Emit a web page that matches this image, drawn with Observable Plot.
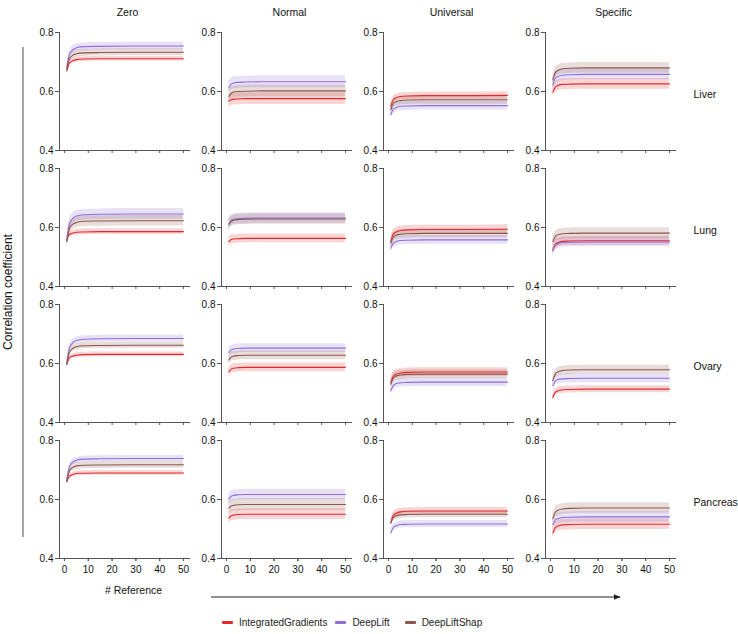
<!DOCTYPE html>
<html>
<head>
<meta charset="utf-8">
<script src="https://cdn.jsdelivr.net/npm/d3@7"></script>
<script src="https://cdn.jsdelivr.net/npm/@observablehq/plot@0.6"></script>
<style>
  body { margin: 0; background: #fff; font-family: "Liberation Sans", Arial, sans-serif; }
  #legend { height: 24px; display: flex; align-items: center; padding-left: 222px; font-size: 10px; color: #222; }
  #legend .item { display: flex; align-items: center; margin-right: 8px; }
  #legend .sw { width: 11px; height: 3px; margin-right: 6px; border-radius: 1px; }
</style>
</head>
<body>
<div id="chart"></div>
<div id="legend"></div>
<script>
const xs = [1, 2, 3, 5, 8, 15, 30, 50];
const methods = ["IntegratedGradients", "DeepLift", "DeepLiftShap"];
const baselines = ["Zero", "Normal", "Universal", "Specific"];
const tissues = ["Liver", "Lung", "Ovary", "Pancreas"];
const colors = ["#e32b2f", "#8d6fd7", "#8c564b"];
const yTicks = [0.4, 0.6, 0.8];
const xTicks = [0, 10, 20, 30, 40, 50];

// mean curves: [IntegratedGradients, DeepLift, DeepLiftShap]
const liverZero = [
  [0.670, 0.695, 0.702, 0.708, 0.710, 0.711, 0.711, 0.711],
  [0.680, 0.724, 0.738, 0.748, 0.752, 0.753, 0.754, 0.754],
  [0.675, 0.710, 0.720, 0.728, 0.731, 0.732, 0.733, 0.733]];
const liverNormal = [
  [0.567, 0.572, 0.574, 0.575, 0.576, 0.576, 0.576, 0.576],
  [0.613, 0.625, 0.629, 0.631, 0.632, 0.633, 0.633, 0.633],
  [0.583, 0.594, 0.598, 0.600, 0.601, 0.602, 0.602, 0.602]];
const liverUniversal = [
  [0.550, 0.572, 0.578, 0.583, 0.585, 0.586, 0.586, 0.587],
  [0.522, 0.540, 0.545, 0.550, 0.551, 0.552, 0.552, 0.552],
  [0.539, 0.559, 0.565, 0.569, 0.571, 0.572, 0.572, 0.572]];
const liverSpecific = [
  [0.598, 0.615, 0.620, 0.624, 0.625, 0.626, 0.626, 0.626],
  [0.622, 0.644, 0.650, 0.655, 0.657, 0.658, 0.658, 0.658],
  [0.639, 0.664, 0.671, 0.677, 0.679, 0.680, 0.680, 0.680]];

const lungZero = [
  [0.560, 0.576, 0.580, 0.584, 0.585, 0.586, 0.586, 0.586],
  [0.553, 0.609, 0.626, 0.639, 0.643, 0.645, 0.646, 0.646],
  [0.553, 0.595, 0.608, 0.617, 0.621, 0.622, 0.623, 0.623]];
const lungNormal = [
  [0.552, 0.559, 0.561, 0.562, 0.563, 0.563, 0.563, 0.563],
  [0.613, 0.624, 0.628, 0.630, 0.631, 0.632, 0.632, 0.632],
  [0.610, 0.621, 0.625, 0.627, 0.628, 0.629, 0.629, 0.629]];
const lungUniversal = [
  [0.554, 0.577, 0.584, 0.590, 0.592, 0.593, 0.593, 0.594],
  [0.530, 0.547, 0.552, 0.556, 0.557, 0.558, 0.558, 0.558],
  [0.547, 0.567, 0.573, 0.577, 0.579, 0.580, 0.580, 0.580]];
const lungSpecific = [
  [0.525, 0.543, 0.548, 0.553, 0.554, 0.555, 0.555, 0.555],
  [0.520, 0.539, 0.544, 0.549, 0.550, 0.551, 0.551, 0.551],
  [0.552, 0.569, 0.575, 0.579, 0.580, 0.581, 0.581, 0.581]];

const ovaryZero = [
  [0.598, 0.618, 0.624, 0.628, 0.630, 0.631, 0.631, 0.631],
  [0.600, 0.651, 0.666, 0.678, 0.682, 0.684, 0.685, 0.685],
  [0.598, 0.636, 0.648, 0.657, 0.660, 0.661, 0.662, 0.662]];
const ovaryNormal = [
  [0.572, 0.581, 0.584, 0.586, 0.587, 0.587, 0.587, 0.587],
  [0.637, 0.646, 0.649, 0.651, 0.652, 0.652, 0.652, 0.652],
  [0.612, 0.622, 0.625, 0.627, 0.628, 0.628, 0.628, 0.628]];
const ovaryUniversal = [
  [0.536, 0.557, 0.563, 0.568, 0.570, 0.571, 0.571, 0.571],
  [0.508, 0.525, 0.531, 0.535, 0.536, 0.537, 0.537, 0.537],
  [0.530, 0.550, 0.557, 0.561, 0.563, 0.564, 0.564, 0.564]];
const ovarySpecific = [
  [0.485, 0.502, 0.507, 0.511, 0.512, 0.513, 0.513, 0.513],
  [0.525, 0.540, 0.545, 0.548, 0.549, 0.550, 0.550, 0.550],
  [0.542, 0.564, 0.571, 0.576, 0.578, 0.579, 0.579, 0.579]];

const pancreasZero = [
  [0.660, 0.678, 0.683, 0.688, 0.689, 0.690, 0.690, 0.690],
  [0.665, 0.709, 0.723, 0.733, 0.737, 0.738, 0.739, 0.739],
  [0.662, 0.696, 0.706, 0.714, 0.716, 0.717, 0.718, 0.718]];
const pancreasNormal = [
  [0.537, 0.545, 0.547, 0.549, 0.550, 0.550, 0.550, 0.550],
  [0.602, 0.611, 0.614, 0.616, 0.617, 0.617, 0.617, 0.617],
  [0.571, 0.578, 0.580, 0.582, 0.583, 0.583, 0.583, 0.583]];
const pancreasUniversal = [
  [0.521, 0.545, 0.552, 0.558, 0.560, 0.561, 0.561, 0.561],
  [0.487, 0.505, 0.510, 0.515, 0.516, 0.517, 0.517, 0.517],
  [0.521, 0.538, 0.544, 0.548, 0.549, 0.550, 0.550, 0.550]];
const pancreasSpecific = [
  [0.487, 0.504, 0.510, 0.514, 0.515, 0.516, 0.516, 0.516],
  [0.515, 0.531, 0.535, 0.539, 0.540, 0.541, 0.541, 0.541],
  [0.535, 0.557, 0.563, 0.568, 0.570, 0.571, 0.571, 0.571]];

// band half-widths per baseline: [IG, DL, DLS]
const liverSpread = [[0.008, 0.013, 0.012], [0.020, 0.020, 0.020], [0.012, 0.015, 0.015], [0.018, 0.018, 0.018]];
const lungSpread = [[0.010, 0.018, 0.018], [0.015, 0.018, 0.018], [0.015, 0.015, 0.015], [0.015, 0.015, 0.018]];
const ovarySpread = [[0.008, 0.012, 0.010], [0.015, 0.015, 0.015], [0.015, 0.015, 0.015], [0.012, 0.015, 0.015]];
const pancreasSpread = [[0.008, 0.010, 0.012], [0.018, 0.018, 0.020], [0.012, 0.012, 0.012], [0.018, 0.018, 0.018]];

const panels = {
  Liver: [liverZero, liverNormal, liverUniversal, liverSpecific],
  Lung: [lungZero, lungNormal, lungUniversal, lungSpecific],
  Ovary: [ovaryZero, ovaryNormal, ovaryUniversal, ovarySpecific],
  Pancreas: [pancreasZero, pancreasNormal, pancreasUniversal, pancreasSpecific]
};
const spreads = { Liver: liverSpread, Lung: lungSpread, Ovary: ovarySpread, Pancreas: pancreasSpread };

const rows = [];
tissues.forEach(t => baselines.forEach((b, bi) => methods.forEach((m, mi) => {
  const ys = panels[t][bi][mi];
  const s = spreads[t][bi][mi];
  xs.forEach((x, i) => rows.push({ tissue: t, baseline: b, method: m, x, y: ys[i], lo: ys[i] - s, hi: ys[i] + s }));
})));

const font = '"Liberation Sans", Arial, sans-serif';
const axisColor = "#555";

const chart = Plot.plot({
  width: 738,
  height: 610,
  marginLeft: 57,
  marginRight: 61,
  marginTop: 30,
  marginBottom: 50,
  style: { fontFamily: font, fontSize: "10px", color: "#111", background: "#fff" },
  fx: { domain: baselines, paddingInner: 0.196, paddingOuter: 0, axis: null },
  fy: { domain: tissues, paddingInner: 0.131, paddingOuter: 0, axis: null },
  x: { domain: [0, 50], insetLeft: 5, insetRight: 6 },
  y: { domain: [0.4, 0.8] },
  color: { domain: methods, range: colors },
  marks: [
    Plot.areaY(rows, { fx: "baseline", fy: "tissue", x: "x", y1: "lo", y2: "hi", z: "method", fill: "method", fillOpacity: 0.2, curve: "monotone-x" }),
    Plot.lineY(rows, { fx: "baseline", fy: "tissue", x: "x", y: "y", z: "method", stroke: "method", strokeWidth: 1.1, curve: "monotone-x" }),
    Plot.frame({ anchor: "left", stroke: axisColor }),
    Plot.frame({ anchor: "bottom", stroke: axisColor }),
    Plot.axisY({ ticks: yTicks, tickSize: 4, tickPadding: 2, tickFormat: d3.format(".1f"), label: null, facetAnchor: null, stroke: axisColor }),
    Plot.axisX({ ticks: xTicks, tickSize: 3, tickFormat: () => "", label: null, facetAnchor: null, stroke: axisColor }),
    Plot.axisX({ ticks: xTicks, tickSize: 3, tickPadding: 4, label: null, stroke: axisColor }),
    Plot.text(baselines, { fx: d => d, fy: () => tissues[0], text: d => d, frameAnchor: "top", dy: -24, dx: 3, fontSize: 10.5 }),
    Plot.text(tissues, { fy: d => d, fx: () => baselines[3], text: d => d, frameAnchor: "right", textAnchor: "start", dx: 18, dy: 3, fontSize: 10.5 }),
    Plot.text(["# Reference"], { fx: () => baselines[0], fy: () => tissues[3], text: d => d, frameAnchor: "bottom", dy: 35, dx: 9, fontSize: 10.5 })
  ]
});

// decorations: outer y label with bracket line, and arrow under x axes
const svg = d3.select(chart);
const defs = svg.append("defs");
defs.append("marker").attr("id", "arrowhead").attr("viewBox", "0 0 10 10").attr("refX", 9).attr("refY", 5)
  .attr("markerWidth", 7).attr("markerHeight", 7).attr("orient", "auto")
  .append("path").attr("d", "M0,1 L10,5 L0,9 Z").attr("fill", "#222");
svg.append("line").attr("x1", 23).attr("x2", 23).attr("y1", 47).attr("y2", 537)
  .attr("stroke", "#888").attr("stroke-width", 1.5);
svg.append("text").attr("transform", "translate(9,292) rotate(-90)").attr("text-anchor", "middle")
  .attr("dominant-baseline", "middle").attr("font-size", 12).attr("fill", "#111").text("Correlation coefficient");
svg.append("line").attr("x1", 211).attr("x2", 620).attr("y1", 597).attr("y2", 597)
  .attr("stroke", "#222").attr("stroke-width", 1).attr("marker-end", "url(#arrowhead)");

document.getElementById("chart").appendChild(chart);

const legend = d3.select("#legend");
methods.forEach((m, i) => {
  const item = legend.append("div").attr("class", "item").style("margin-right", i === 1 ? "15px" : "8px");
  item.append("div").attr("class", "sw").style("background", colors[i]);
  item.append("span").text(m);
});
</script>
</body>
</html>
